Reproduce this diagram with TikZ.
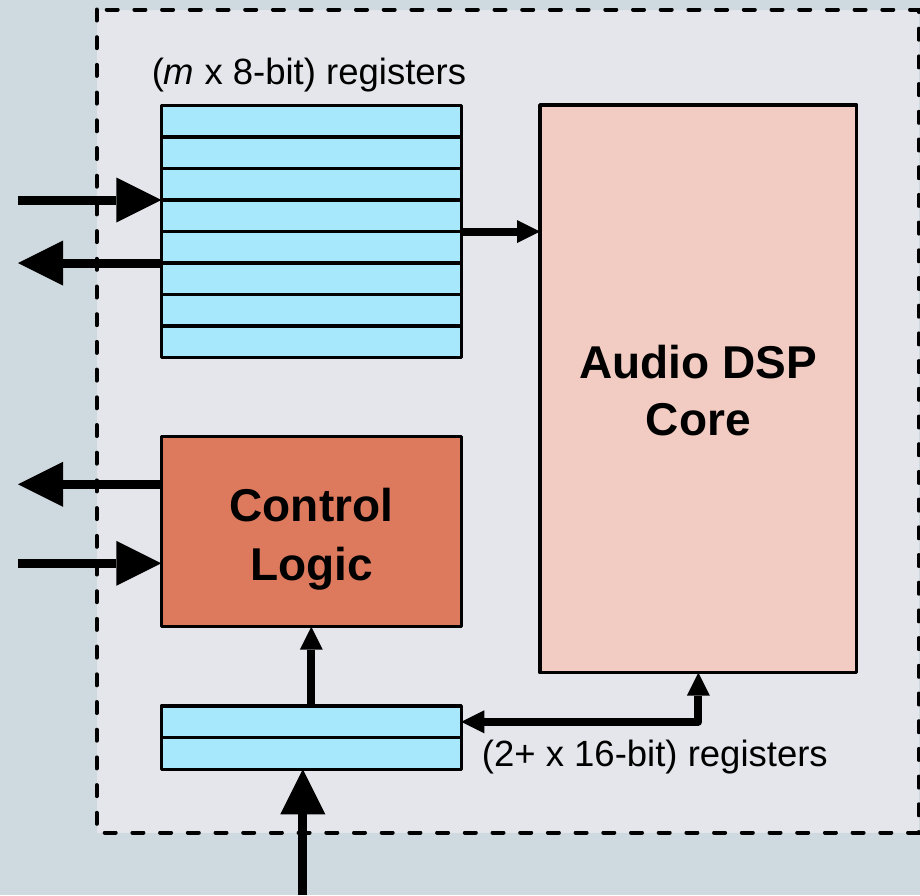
\documentclass[tikz,border=0pt]{standalone}
\usepackage{fontspec}
\setmainfont{Liberation Sans}
\usetikzlibrary{arrows.meta,calc}
\definecolor{outerbg}{RGB}{207,218,224}
\definecolor{innerbg}{RGB}{228,230,235}
\definecolor{regcyan}{RGB}{168,232,252}
\definecolor{dspfill}{RGB}{242,204,195}
\definecolor{ctlfill}{RGB}{221,122,93}
\tikzset{
  bigtip/.tip={Triangle[length=45pt,width=45pt,line width=0pt]},
  smalltip/.tip={Triangle[length=23pt,width=23pt,line width=0pt]},
}
\begin{document}
\begin{tikzpicture}[x=1pt,y=-1pt,
  box/.style={draw=black, line width=3.5pt, inner sep=0pt, outer sep=0pt, anchor=north west, line join=round},
  regbox/.style={box, fill=regcyan},
  sepline/.style={draw=black, line width=3.5pt},
  frame/.style={draw=black, fill=innerbg, line width=4pt, line cap=round, dash pattern=on 11pt off 16.7pt},
  bigarrow/.style={line width=9pt, -bigtip},
  smallarrow/.style={line width=8pt, line join=round, -smalltip},
  lbl/.style={font=\fontsize{36.5}{44}\selectfont, inner sep=0pt, anchor=base},
  ttl/.style={font=\fontsize{46}{56}\selectfont\bfseries, inner sep=0pt, anchor=base},
]
\fill[outerbg] (0,0) rectangle (920,895);
\useasboundingbox (0,0) rectangle (920,895);
\draw[frame] (96.7,9.5) rectangle (918.5,832.5);

% boxes
\node[regbox, minimum width=300pt, minimum height=252.4pt] (regs) at (161.3,105.3) {};
\foreach \k in {1,...,7}
  \draw[sepline] ($(regs.north west)!\k/8!(regs.south west)$) -- ($(regs.north east)!\k/8!(regs.south east)$);
\node[box, fill=dspfill, minimum width=316.7pt, minimum height=567.7pt] (dsp) at (540,105) {};
\node[box, fill=ctlfill, minimum width=300.2pt, minimum height=190pt] (ctl) at (161.3,436.7) {};
\node[regbox, minimum width=300pt, minimum height=63.3pt] (regs2) at (161.3,706) {};
\draw[sepline] (regs2.west) -- (regs2.east);

% texts
\node[lbl] (lblA) at (309,84) {(\textit{m} x 8-bit) registers};
\node[lbl, anchor=base west] (lblB) at (481.7,766) {(2+ x 16-bit) registers};
\node[ttl] (dspA) at (698.3,378.5) {Audio DSP};
\node[ttl] (dspB) at (698.3,435.5) {Core};
\node[ttl] (ctlA) at (311.4,521) {Control};
\node[ttl] (ctlB) at (311.4,580) {Logic};

% connectors
\coordinate (inA) at (18,200);
\coordinate (outA) at (18,263);
\coordinate (outB) at (18,484.3);
\coordinate (inB) at (18,563.3);
\coordinate (inC) at (302.8,895);
\coordinate (pE) at ($(regs2.north east)!0.25!(regs2.south east)$);
\draw[bigarrow] (inA) -- (inA -| regs.west);
\draw[bigarrow] (outA -| regs.west) -- (outA);
\draw[bigarrow] (outB -| ctl.west) -- (outB);
\draw[bigarrow] (inB) -- (inB -| ctl.west);
\draw[bigarrow] (inC) -- (inC |- regs2.south);
\draw[smallarrow] (regs.east) -- (regs.east -| dsp.west);
\draw[smallarrow] (regs2.north) -- (regs2.north |- ctl.south);
\draw[smallarrow, smalltip-smalltip] (pE) -| (dsp.south);
\end{tikzpicture}
\end{document}
